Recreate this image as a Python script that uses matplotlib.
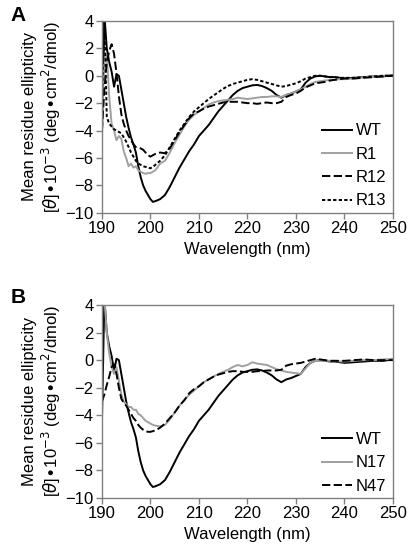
import numpy as np
import matplotlib
matplotlib.use("Agg")
import matplotlib.pyplot as plt

plt.rcParams["font.family"] = ["Liberation Sans", "DejaVu Sans"]
plt.rcParams["lines.scale_dashes"] = False

# wavelength grid (nm): fine steps at the start, then 1 nm, then 2 nm
wavelength = np.concatenate([np.arange(190, 201.5, 0.5),
                             np.arange(202, 241, 1.0),
                             np.arange(242, 251, 2.0)])

wt = [-4.5, 4.5, 2.0, 1.0, 0.3, -0.8, 0.1, 0.0, -1.0, -2.0, -3.0, -3.8,
      -4.5, -5.0, -5.6, -6.6, -7.4, -8.0, -8.4, -8.7, -9.0, -9.2, -9.15,
      -9.0, -8.7, -8.1, -7.4, -6.7, -6.1, -5.5, -5.0, -4.4, -4.0,
      -3.6, -3.1, -2.6, -2.2, -1.8, -1.4, -1.1, -0.9, -0.8, -0.7,
      -0.67, -0.75, -0.9, -1.1, -1.4, -1.6, -1.4, -1.3, -1.15, -1.0,
      -0.5, -0.2, -0.05, 0.0, -0.05, -0.1, -0.1, -0.15, -0.2,
      -0.15, -0.1, -0.05, -0.05, 0.05]

r1 = [-3.5, 1.0, 1.5, -1.5, -3.5, -4.0, -4.7, -4.4, -4.6, -5.5, -6.0, -6.6,
      -6.4, -6.7, -6.6, -6.9, -7.0, -7.1, -7.15, -7.1, -7.1, -7.0, -6.9,
      -6.4, -6.2, -5.6, -4.9, -4.3, -3.7, -3.2, -2.85, -2.6, -2.35,
      -2.1, -1.95, -1.85, -1.8, -1.75, -1.7, -1.6, -1.65, -1.7, -1.65,
      -1.6, -1.55, -1.55, -1.5, -1.5, -1.55, -1.4, -1.3, -1.15, -1.0,
      -0.8, -0.6, -0.45, -0.4, -0.35, -0.3, -0.3, -0.25, -0.25,
      -0.2, -0.1, -0.05, 0.0, 0.05]

r12 = [-4.0, -1.0, 1.0, 1.8, 2.3, 1.6, 0.2, -1.5, -2.8, -3.5, -4.0, -4.4,
       -4.7, -5.0, -5.2, -5.25, -5.3, -5.4, -5.6, -5.8, -5.9, -5.8, -5.7,
       -5.6, -5.65, -5.3, -4.7, -4.1, -3.6, -3.1, -2.75, -2.6, -2.4,
       -2.25, -2.15, -2.05, -1.95, -1.9, -1.9, -1.9, -1.95, -2.0, -2.0,
       -2.05, -2.0, -1.95, -2.0, -2.0, -1.9, -1.55, -1.4, -1.3, -1.1,
       -0.85, -0.7, -0.55, -0.5, -0.45, -0.35, -0.3, -0.25, -0.2,
       -0.2, -0.15, -0.1, -0.05, 0.0]

r13 = [-2.0, 4.5, -3.0, -3.5, -3.7, -3.9, -4.0, -4.1, -4.2, -4.5, -4.8, -5.2,
       -5.6, -5.9, -6.2, -6.4, -6.5, -6.6, -6.65, -6.7, -6.75, -6.65, -6.5,
       -6.2, -5.8, -5.2, -4.6, -4.0, -3.5, -3.0, -2.6, -2.3, -2.0,
       -1.7, -1.45, -1.2, -0.95, -0.75, -0.6, -0.5, -0.4, -0.3, -0.25,
       -0.3, -0.4, -0.5, -0.6, -0.7, -0.8, -0.75, -0.65, -0.55, -0.4,
       -0.2, -0.1, 0.0, 0.0, -0.05, -0.1, -0.1, -0.15, -0.15,
       -0.15, -0.1, -0.05, 0.0, 0.0]

n17 = [4.5, 4.5, 2.0, 0.5, -0.5, -1.0, -0.5, -1.5, -2.5, -3.0, -3.2, -3.4,
       -3.4, -3.6, -3.6, -3.9, -4.0, -4.2, -4.4, -4.5, -4.6, -4.7, -4.75,
       -4.8, -4.7, -4.3, -3.8, -3.3, -2.9, -2.5, -2.2, -1.9, -1.6,
       -1.4, -1.2, -1.0, -0.85, -0.7, -0.5, -0.35, -0.45, -0.35, -0.15,
       -0.25, -0.3, -0.35, -0.5, -0.65, -0.75, -0.85, -0.9, -0.95, -1.0,
       -0.6, -0.2, -0.05, -0.05, -0.05, -0.05, -0.05, -0.1, -0.1,
       -0.05, 0.0, 0.0, 0.05, 0.1]

n47 = [-3.0, -2.5, -1.8, -1.2, -0.5, -0.3, -1.0, -2.0, -2.8, -3.1, -3.3, -3.6,
       -3.9, -4.2, -4.4, -4.7, -4.9, -5.05, -5.15, -5.2, -5.2, -5.15, -5.1,
       -4.9, -4.6, -4.2, -3.8, -3.3, -2.9, -2.4, -2.1, -1.9, -1.6,
       -1.4, -1.2, -1.05, -0.95, -0.85, -0.8, -0.8, -0.85, -0.85, -0.85,
       -0.8, -0.8, -0.75, -0.75, -0.75, -0.7, -0.4, -0.3, -0.25, -0.2,
       -0.1, 0.0, 0.1, 0.05, 0.0, -0.05, -0.05, -0.05, -0.05,
       0.0, 0.05, 0.0, 0.0, 0.0]

GRAY = "#a0a0a0"
DASHED = (0, (6.0, 2.4))
DOTTED = (0, (2.4, 1.6))
LW = 1.4
FS = 12

panels = [
    ("A", 0.989, [0.248, 0.613, 0.708, 0.349],
     [("WT", wt, "black", "-"), ("R1", r1, GRAY, "-"),
      ("R12", r12, "black", DASHED), ("R13", r13, "black", DOTTED)]),
    ("B", 0.477, [0.248, 0.0945, 0.708, 0.351],
     [("WT", wt, "black", "-"), ("N17", n17, GRAY, "-"),
      ("N47", n47, "black", DASHED)]),
]

fig = plt.figure(figsize=(4.11, 5.5), dpi=100)

for letter, ytop, rect, series in panels:
    ax = fig.add_axes(rect)
    for name, vals, color, ls in series:
        ax.plot(wavelength, vals, color=color, linestyle=ls, lw=LW, label=name)

    ax.set_xlim(190, 250)
    ax.set_ylim(-10, 4)
    ax.set_xticks(range(190, 251, 10))
    ax.set_yticks(range(-10, 5, 2))
    for s in ax.spines.values():
        s.set_color("#808080")
        s.set_linewidth(1.0)
    ax.tick_params(direction="out", length=4, width=1.0, color="#808080",
                   labelsize=FS, pad=2)
    ax.set_xlabel("Wavelength (nm)", fontsize=FS, labelpad=4)
    ax.set_ylabel("Mean residue ellipticity\n"
                  r"[$\theta$]$\bullet$10$^{-3}$ (deg$\bullet$cm$^2$/dmol)",
                  fontsize=FS, labelpad=2, linespacing=1.15)
    ax.legend(loc="lower right", bbox_to_anchor=(1.0, -0.012), frameon=False,
              fontsize=FS, handlelength=1.8, handletextpad=0.2,
              labelspacing=0.5, borderaxespad=0.0)

    fig.text(0.025, ytop, letter, fontsize=15, fontweight="bold",
             va="top", ha="left")

fig.savefig("out.png", dpi=100)
